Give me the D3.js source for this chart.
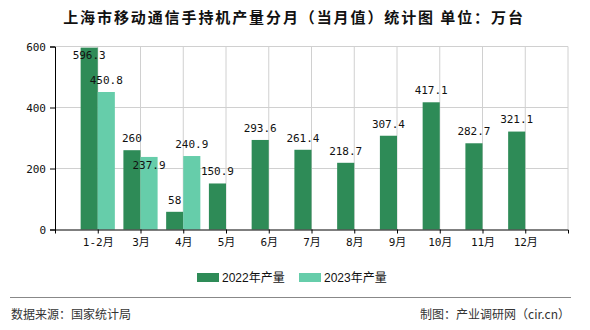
<!DOCTYPE html>
<html><head><meta charset="utf-8">
<script src="https://cdn.jsdelivr.net/npm/d3@7"></script>
<style>
html,body{margin:0;padding:0;background:#fff;}
svg{display:block;}
</style></head>
<body>
<svg id="chart" width="590" height="330"></svg>
<script>
const categories = ["1-2月","3月","4月","5月","6月","7月","8月","9月","10月","11月","12月"];
const series2022 = [596.3,260,58,150.9,293.6,261.4,218.7,307.4,417.1,282.7,321.1];
const series2023 = [450.8,237.9,240.9,null,null,null,null,null,null,null,null];
const seriesNames = ["2022年产量","2023年产量"];
const yTicks = [0,200,400,600];
const title = "上海市移动通信手持机产量分月（当月值）统计图 单位：万台";
const sourceText = "数据来源：国家统计局";
const creditText = "制图：产业调研网（cir.cn）";

const colors = ["#2e8b57","#66cdaa"];
const svg = d3.select("#chart");
const L = 55, R = 568, T = 46.5, B = 229.5;
const monoFont = "'DejaVu Sans Mono','Noto Sans CJK SC',monospace";
const cjkFont = "'Noto Sans CJK SC','DejaVu Sans',sans-serif";

const x = d3.scalePoint().domain(categories).range([L, R]).padding(1);
const y = d3.scaleLinear().domain([0, 600]).range([B, T]);
const bw = x.step() * 0.4;

// title
svg.append("text").attr("x", 294).attr("y", 18).attr("dy", "0.35em")
  .attr("text-anchor", "middle").attr("font-family", cjkFont)
  .attr("font-size", 15).attr("font-weight", "bold").attr("letter-spacing", "1.9px")
  .attr("fill", "#111").text(title);

// grid
const g = svg.append("g");
g.selectAll("line.h").data(yTicks.filter(d => d > 0)).enter().append("line")
  .attr("x1", L).attr("x2", R).attr("y1", d => y(d)).attr("y2", d => y(d))
  .attr("stroke", "#d0d0d0").attr("stroke-width", 1);
g.selectAll("line.v").data(categories).enter().append("line")
  .attr("x1", d => x(d)).attr("x2", d => x(d)).attr("y1", T).attr("y2", B)
  .attr("stroke", "#d0d0d0").attr("stroke-width", 1);
g.append("line").attr("x1", R).attr("x2", R).attr("y1", T).attr("y2", B)
  .attr("stroke", "#d0d0d0");

// bars
const bars = svg.append("g");
categories.forEach((c, i) => {
  if (series2022[i] != null)
    bars.append("rect").attr("x", x(c) - bw).attr("y", y(series2022[i]))
      .attr("width", bw).attr("height", y(0) - y(series2022[i])).attr("fill", colors[0]);
  if (series2023[i] != null)
    bars.append("rect").attr("x", x(c)).attr("y", y(series2023[i]))
      .attr("width", bw).attr("height", y(0) - y(series2023[i])).attr("fill", colors[1]);
});

// value labels
const labels = svg.append("g").attr("font-family", monoFont).attr("font-size", 11).attr("fill", "#111");
categories.forEach((c, i) => {
  let a = null;
  const v1 = series2022[i];
  if (v1 != null) {
    const cx = x(c) - bw / 2;
    const cy = Math.max(y(v1) - 12, T + 9);
    labels.append("text").attr("x", cx).attr("y", cy).attr("dy", "0.35em")
      .attr("text-anchor", "middle").text(v1);
    const w = String(v1).length * 6.6;
    a = {x0: cx - w / 2, x1: cx + w / 2, cy};
  }
  const v2 = series2023[i];
  if (v2 != null) {
    const cx = x(c) + bw / 2;
    let cy = Math.max(y(v2) - 12, T + 9);
    const w = String(v2).length * 6.6;
    if (a && Math.abs(a.cy - cy) < 12 && cx - w / 2 < a.x1 && cx + w / 2 > a.x0) cy = y(v2) + 8;
    labels.append("text").attr("x", cx).attr("y", cy).attr("dy", "0.35em")
      .attr("text-anchor", "middle").text(v2);
  }
});

// axes
const yAxis = d3.axisLeft(y).tickValues(yTicks).tickSize(5).tickPadding(4);
svg.append("g").attr("transform", `translate(${L},0)`).call(yAxis)
  .call(s => s.select(".domain").attr("stroke", "#000"))
  .call(s => s.selectAll("text").attr("font-family", monoFont).attr("font-size", 11).attr("fill", "#111"));

const xAxis = d3.axisBottom(x).tickSize(4).tickSizeOuter(4).tickPadding(5);
svg.append("g").attr("transform", `translate(0,${B})`).call(xAxis)
  .call(s => s.select(".domain").attr("stroke", "#000"))
  .call(s => s.selectAll("text").attr("font-family", monoFont).attr("font-size", 11).attr("fill", "#111"));

// legend
const leg = svg.append("g");
const legX = [197, 299];
seriesNames.forEach((n, i) => {
  leg.append("rect").attr("x", legX[i]).attr("y", 273).attr("width", 22).attr("height", 9).attr("fill", colors[i]);
  leg.append("text").attr("x", legX[i] + 25).attr("y", 277.5).attr("dy", "0.35em")
    .attr("font-family", "'Liberation Sans','Noto Sans CJK SC',sans-serif").attr("font-size", 12)
    .attr("fill", "#111").text(n);
});

// footer
svg.append("line").attr("x1", 10).attr("x2", 571).attr("y1", 297.5).attr("y2", 297.5)
  .attr("stroke", "#888").attr("stroke-width", 1);
svg.append("text").attr("x", 11).attr("y", 315).attr("dy", "0.35em")
  .attr("font-family", cjkFont).attr("font-size", 12).attr("fill", "#333").text(sourceText);
svg.append("text").attr("x", 570).attr("y", 315).attr("dy", "0.35em").attr("text-anchor", "end")
  .attr("font-family", cjkFont).attr("font-size", 12).attr("fill", "#333").text(creditText);
</script>
</body></html>
